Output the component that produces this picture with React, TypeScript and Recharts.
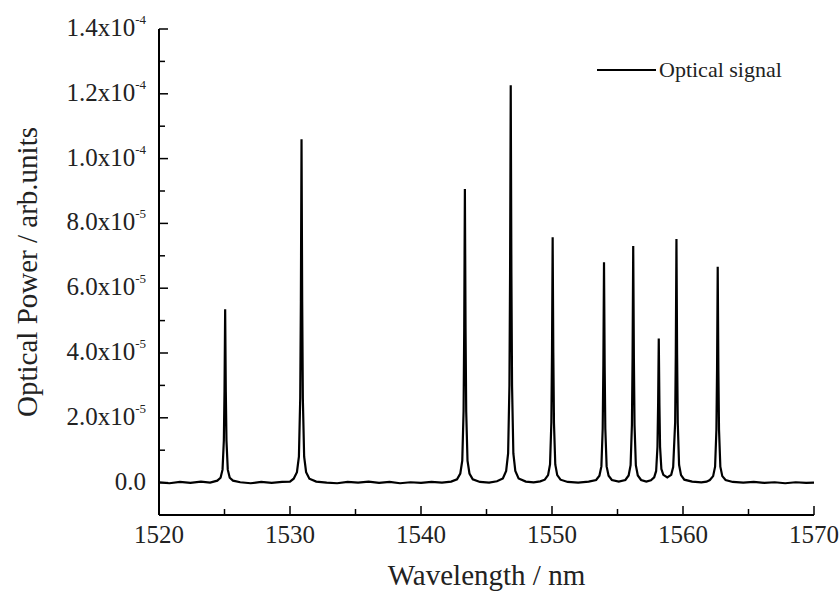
import React from "react";
import { LineChart, Line, XAxis, YAxis } from "recharts";

// Wavelength (nm) and optical power (in units of 1e-5 arb. units)
const wavelengthNm: number[] = [
  1520, 1520.8, 1521.6, 1522.4, 1523.2, 1523.9,
  1524.45, 1524.7, 1524.85, 1524.95, 1525.0, 1525.05, 1525.1, 1525.15, 1525.25, 1525.4, 1525.65,
  1526.2, 1527.0, 1527.8, 1528.6, 1529.4, 1530.0,
  1530.28, 1530.53, 1530.68, 1530.78, 1530.83, 1530.88, 1530.93, 1530.98, 1531.08, 1531.23, 1531.48,
  1532.0, 1532.8, 1533.6, 1534.4, 1535.2, 1536.0, 1536.8, 1537.6, 1538.4, 1539.2, 1540.0, 1540.8, 1541.6, 1542.3,
  1542.75, 1543.0, 1543.15, 1543.25, 1543.3, 1543.35, 1543.4, 1543.45, 1543.55, 1543.7, 1543.95,
  1544.5, 1545.2, 1545.8,
  1546.25, 1546.5, 1546.65, 1546.75, 1546.8, 1546.85, 1546.9, 1546.95, 1547.05, 1547.2, 1547.45,
  1548.0, 1548.6, 1549.1,
  1549.45, 1549.7, 1549.85, 1549.95, 1550.0, 1550.05, 1550.1, 1550.15, 1550.25, 1550.4, 1550.65,
  1551.2, 1552.0, 1552.8,
  1553.37, 1553.62, 1553.77, 1553.87, 1553.92, 1553.97, 1554.02, 1554.07, 1554.17, 1554.32, 1554.57,
  1555.1,
  1555.6, 1555.85, 1556.0, 1556.1, 1556.15, 1556.2, 1556.25, 1556.3, 1556.4, 1556.55, 1556.8,
  1557.2,
  1557.55, 1557.8, 1557.95, 1558.05, 1558.1, 1558.15, 1558.2, 1558.25, 1558.35, 1558.5, 1558.8,
  1559.1, 1559.25, 1559.4, 1559.45, 1559.5, 1559.55, 1559.6, 1559.7, 1559.85, 1560.1,
  1560.7, 1561.4, 1561.8,
  1562.05, 1562.3, 1562.45, 1562.55, 1562.6, 1562.65, 1562.7, 1562.75, 1562.85, 1563.0, 1563.25,
  1563.8, 1564.6, 1565.4, 1566.2, 1567.0, 1567.8, 1568.6, 1569.4, 1570,
];

const powerE5: number[] = [
  0.01, -0.02, 0.02, -0.01, 0.03, 0.0,
  0.06, 0.15, 0.4, 1.3, 2.8, 5.35, 2.8, 1.3, 0.4, 0.15, 0.06,
  0.01, -0.02, 0.02, -0.01, 0.02, 0.03,
  0.12, 0.32, 0.8, 2.6, 5.6, 10.6, 5.6, 2.6, 0.8, 0.32, 0.12,
  0.03, 0.0, -0.02, 0.02, 0.0, 0.03, -0.01, 0.02, -0.02, 0.01, -0.01, 0.02, 0.0, 0.03,
  0.1, 0.28, 0.68, 2.2, 4.8, 9.06, 4.8, 2.2, 0.68, 0.28, 0.1,
  0.02, 0.0, 0.04,
  0.13, 0.36, 0.9, 3.0, 6.5, 12.26, 6.5, 3.0, 0.9, 0.36, 0.13,
  0.03, 0.01, 0.04,
  0.09, 0.23, 0.56, 1.85, 4.0, 7.57, 4.0, 1.85, 0.56, 0.23, 0.09,
  0.02, 0.0, 0.03,
  0.08, 0.21, 0.5, 1.66, 3.6, 6.8, 3.6, 1.66, 0.5, 0.21, 0.08,
  0.03,
  0.08, 0.22, 0.54, 1.78, 3.85, 7.3, 3.85, 1.78, 0.54, 0.22, 0.08,
  0.03,
  0.07, 0.16, 0.36, 1.1, 2.4, 4.45, 2.4, 1.1, 0.42, 0.24, 0.16,
  0.24, 0.48, 1.85, 3.95, 7.52, 3.95, 1.85, 0.55, 0.23, 0.09,
  0.03, 0.01, 0.03,
  0.08, 0.2, 0.49, 1.63, 3.5, 6.66, 3.5, 1.63, 0.49, 0.2, 0.08,
  0.02, 0.0, 0.02, -0.01, 0.01, -0.02, 0.01, -0.01, 0.0,
];

const xTicks: number[] = [1520, 1525, 1530, 1535, 1540, 1545, 1550, 1555, 1560, 1565, 1570];
const yTicks: number[] = [0, 1, 2, 3, 4, 5, 6, 7, 8, 9, 10, 11, 12, 13, 14];

const seriesName = "Optical signal";
const xLabel = "Wavelength / nm";
const yLabel = "Optical Power / arb.units";

const data = wavelengthNm.map((wl, i) => ({ wl, p: powerE5[i] }));

const FONT = "'Liberation Serif', 'Times New Roman', serif";
const TXT = "#222";

const BottomTick = (props: any) => {
  const { x, y, payload } = props;
  const v = payload.value as number;
  const major = v % 10 === 0;
  return (
    <g>
      <line x1={x} y1={y} x2={x} y2={y - (major ? 9 : 6)} stroke="#000" strokeWidth={1.5} />
      {major && (
        <text x={x} y={y + 28} textAnchor="middle" fontSize={25} fontFamily={FONT} fill={TXT}>
          {v}
        </text>
      )}
    </g>
  );
};

const TopTick = (props: any) => {
  const { x, y, payload } = props;
  const v = payload.value as number;
  const major = v % 10 === 0;
  return <line x1={x} y1={y} x2={x} y2={y + (major ? 9 : 6)} stroke="#000" strokeWidth={1.5} />;
};

const LeftTick = (props: any) => {
  const { x, y, payload } = props;
  const v = payload.value as number;
  const major = v % 2 === 0;
  let main = "";
  let sup = "";
  if (major) {
    if (v === 0) main = "0.0";
    else if (v < 10) {
      main = `${v.toFixed(1)}x10`;
      sup = "-5";
    } else {
      main = `${(v / 10).toFixed(1)}x10`;
      sup = "-4";
    }
  }
  return (
    <g>
      <line x1={x} y1={y} x2={x + (major ? 9 : 6)} y2={y} stroke="#000" strokeWidth={1.5} />
      {major && (
        <text x={x - 13} y={y + 7} textAnchor="end" fontSize={25} fontFamily={FONT} fill={TXT}>
          {main}
          {sup && (
            <tspan dy={-12} fontSize={13}>
              {sup}
            </tspan>
          )}
        </text>
      )}
    </g>
  );
};

const RightTick = (props: any) => {
  const { x, y, payload } = props;
  const v = payload.value as number;
  const major = v % 2 === 0;
  return <line x1={x} y1={y} x2={x - (major ? 9 : 6)} y2={y} stroke="#000" strokeWidth={1.5} />;
};

export default function App() {
  return (
    <div style={{ position: "absolute", left: 0, top: 0, width: 840, height: 594, background: "#fff" }}>
      <LineChart
        width={840}
        height={594}
        data={data}
        margin={{ top: 29, right: 26, left: 0, bottom: 0 }}
      >
        <XAxis
          dataKey="wl"
          type="number"
          domain={[1520, 1570]}
          ticks={xTicks}
          interval={0}
          allowDataOverflow
          height={79}
          tickSize={0}
          tickMargin={0}
          tickLine={false}
          axisLine={{ stroke: "#000", strokeWidth: 2 }}
          tick={<BottomTick />}
          label={{
            value: xLabel,
            position: "insideBottom",
            offset: 9,
            fontSize: 29,
            fontFamily: FONT,
            fill: TXT,
          }}
        />
        <XAxis
          xAxisId="top"
          orientation="top"
          dataKey="wl"
          type="number"
          domain={[1520, 1570]}
          ticks={xTicks}
          interval={0}
          allowDataOverflow
          height={0}
          tickSize={0}
          tickMargin={0}
          tickLine={false}
          axisLine={{ stroke: "#000", strokeWidth: 2 }}
          tick={<TopTick />}
        />
        <YAxis
          type="number"
          domain={[-1, 14]}
          ticks={yTicks}
          interval={0}
          allowDataOverflow
          width={159}
          tickSize={0}
          tickMargin={0}
          tickLine={false}
          axisLine={{ stroke: "#000", strokeWidth: 2 }}
          tick={<LeftTick />}
          label={{
            value: yLabel,
            angle: -90,
            position: "insideLeft",
            offset: 27,
            fontSize: 29,
            fontFamily: FONT,
            fill: TXT,
            style: { textAnchor: "middle" },
          }}
        />
        <YAxis
          yAxisId="right"
          orientation="right"
          type="number"
          domain={[-1, 14]}
          ticks={yTicks}
          interval={0}
          allowDataOverflow
          width={0}
          tickSize={0}
          tickMargin={0}
          tickLine={false}
          axisLine={{ stroke: "#000", strokeWidth: 2 }}
          tick={<RightTick />}
        />
        <Line
          type="linear"
          dataKey="p"
          name={seriesName}
          stroke="#000"
          strokeWidth={2.2}
          dot={false}
          activeDot={false}
          isAnimationActive={false}
        />
      </LineChart>
      <div style={{ position: "absolute", left: 597, top: 55, width: 230, height: 30 }}>
        <svg width={230} height={30}>
          <line x1={0} y1={15} x2={59} y2={15} stroke="#000" strokeWidth={2} />
          <text x={62} y={22} fontSize={22} fontFamily={FONT} fill={TXT}>
            {seriesName}
          </text>
        </svg>
      </div>
    </div>
  );
}
